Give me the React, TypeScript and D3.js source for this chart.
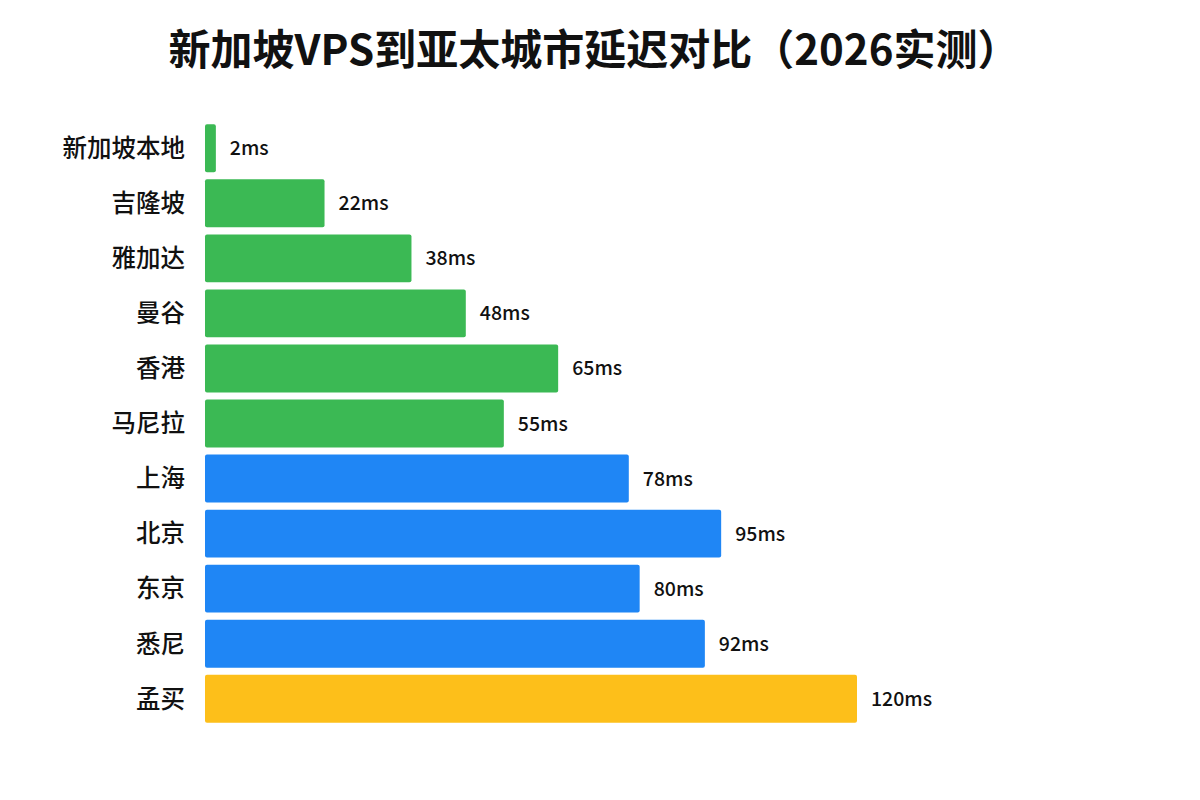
import React from "react";
import * as d3 from "d3";

const cities = ["新加坡本地", "吉隆坡", "雅加达", "曼谷", "香港", "马尼拉", "上海", "北京", "东京", "悉尼", "孟买"];
const latency = [2, 22, 38, 48, 65, 55, 78, 95, 80, 92, 120];
const groups = ["sea", "sea", "sea", "sea", "sea", "sea", "east", "east", "east", "east", "south"];
const groupColors: Record<string, string> = { sea: "#3bb954", east: "#1f86f5", south: "#fdbf1a" };
const title = "新加坡VPS到亚太城市延迟对比（2026实测）";

export default function App() {
  const W = 1200, H = 800;
  const x = d3.scaleLinear().domain([0, 120]).range([205, 857]);
  const y = d3.scaleBand<string>().domain(cities).range([121, 726]).paddingInner(0.13).paddingOuter(0.06);
  const font = "'Noto Sans CJK SC', 'Noto Sans', sans-serif";
  return (
    <svg width={W} height={H} style={{ position: "absolute", left: 0, top: 0, background: "#fff" }} fontFamily={font}>
      <rect width={W} height={H} fill="#fff" />
      <text x={594} y={65} textAnchor="middle" fontSize={42} fontWeight={700} fill="#111">{title}</text>
      {cities.map((c, i) => {
        const yy = y(c)!;
        const bh = y.bandwidth();
        return (
          <g key={c}>
            <text x={185} y={yy + bh / 2} dy="0.36em" textAnchor="end" fontSize={24.5} fontWeight={500} fill="#111">{c}</text>
            <rect x={x(0)} y={yy} width={x(latency[i]) - x(0)} height={bh} rx={2} fill={groupColors[groups[i]]} />
            <text x={x(latency[i]) + 14} y={yy + bh / 2} dy="0.36em" fontSize={19.5} fontWeight={500} fill="#111">{latency[i]}ms</text>
          </g>
        );
      })}
    </svg>
  );
}
